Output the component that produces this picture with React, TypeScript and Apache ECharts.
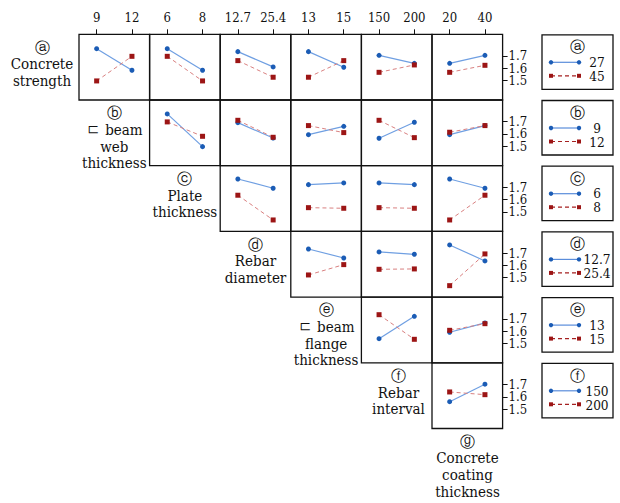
import React, { useEffect, useRef } from "react";
import * as echarts from "echarts";

// Factor names (row/column labels)
const factorLabels = [
  "ⓐ\nConcrete\nstrength",
  "ⓑ\nㄷ beam\nweb\nthickness",
  "ⓒ\nPlate\nthickness",
  "ⓓ\nRebar\ndiameter",
  "ⓔ\nㄷ beam\nflange\nthickness",
  "ⓕ\nRebar\ninterval",
  "ⓖ\nConcrete\ncoating\nthickness",
];
const circled = ["ⓐ", "ⓑ", "ⓒ", "ⓓ", "ⓔ", "ⓕ"];
const factorLevels = [
  ["27", "45"],
  ["9", "12"],
  ["6", "8"],
  ["12.7", "25.4"],
  ["13", "15"],
  ["150", "200"],
  ["20", "40"],
];
const yTicks = [1.5, 1.6, 1.7];

// Interaction means: row factor at its first level (blue) / second level (red),
// one pair per column factor (columns after the row factor)
const aLow = [[1.759, 1.584], [1.759, 1.584], [1.735, 1.611], [1.735, 1.608], [1.705, 1.64], [1.64, 1.705]];
const aHigh = [[1.497, 1.697], [1.697, 1.497], [1.662, 1.527], [1.527, 1.662], [1.567, 1.627], [1.567, 1.624]];
const bLow = [[1.763, 1.497], [1.692, 1.567], [1.594, 1.662], [1.565, 1.695], [1.594, 1.668]];
const bHigh = [[1.698, 1.581], [1.711, 1.573], [1.668, 1.611], [1.711, 1.57], [1.614, 1.668]];
const cLow = [[1.768, 1.693], [1.722, 1.736], [1.736, 1.722], [1.768, 1.693]];
const cHigh = [[1.636, 1.435], [1.535, 1.53], [1.535, 1.53], [1.435, 1.636]];
const dLow = [[1.733, 1.66], [1.709, 1.69], [1.766, 1.636]];
const dHigh = [[1.522, 1.606], [1.568, 1.571], [1.435, 1.693]];
const eLow = [[1.538, 1.72], [1.59, 1.666]];
const eHigh = [[1.733, 1.533], [1.606, 1.66]];
const fLow = [[1.56, 1.702]];
const fHigh = [[1.639, 1.617]];

const lowRows = [aLow, bLow, cLow, dLow, eLow, fLow];
const highRows = [aHigh, bHigh, cHigh, dHigh, eHigh, fHigh];

const FONT = "DejaVu Serif Condensed";

export default function App() {
  const ref = useRef<HTMLDivElement>(null);
  useEffect(() => {
    document.body.style.margin = "0";
    if (!ref.current) return;
    const chart = echarts.init(ref.current, undefined, { renderer: "svg" });

    const left0 = 79;
    const colW = 70.6;
    const top0 = 34.3;
    const rowH = 65.7;
    const yMin = 1.342;
    const yMax = 1.876;

    const grids: any[] = [];
    const xAxes: any[] = [];
    const yAxes: any[] = [];
    const series: any[] = [];
    let k = 0;
    for (let r = 0; r < 6; r++) {
      for (let c = r; c < 6; c++) {
        grids.push({
          left: left0 + colW * c,
          top: top0 + rowH * r,
          width: colW,
          height: rowH,
          show: true,
          borderColor: "#111",
          borderWidth: 1.3,
          backgroundColor: "transparent",
        });
        xAxes.push({
          gridIndex: k,
          type: "category",
          data: factorLevels[c + 1],
          boundaryGap: true,
          position: "top",
          show: r === 0,
          axisLine: { show: false },
          axisTick: { show: true, alignWithLabel: true, interval: 0, length: 5, lineStyle: { color: "#111", width: 1 } },
          axisLabel: { show: true, interval: 0, margin: 10, fontSize: 13, color: "#111", fontFamily: FONT },
          splitLine: { show: false },
        });
        const yIndex = yAxes.length;
        if (c === 5) {
          // one axis per tick value so every label is kept
          yTicks.forEach((tv) => {
            yAxes.push({
              gridIndex: k,
              type: "value",
              min: yMin,
              max: yMax,
              position: "right",
              axisLine: { show: false },
              splitLine: { show: false },
              axisTick: { show: true, length: 5, customValues: [tv], lineStyle: { color: "#111", width: 1 } },
              axisLabel: {
                show: true,
                customValues: [tv],
                showMinLabel: true,
                showMaxLabel: true,
                margin: 6,
                fontSize: 13,
                lineHeight: 12,
                color: "#111",
                fontFamily: FONT,
                formatter: (v: number) => v.toFixed(1),
              },
            });
          });
        } else {
          yAxes.push({ gridIndex: k, type: "value", min: yMin, max: yMax, show: false });
        }
        series.push({
          type: "line",
          xAxisIndex: k,
          yAxisIndex: yIndex,
          data: lowRows[r][c - r],
          symbol: "circle",
          symbolSize: 5,
          lineStyle: { color: "#6f9fe2", width: 1.2 },
          itemStyle: { color: "#1b5cb5" },
          z: 3,
        });
        series.push({
          type: "line",
          xAxisIndex: k,
          yAxisIndex: yIndex,
          data: highRows[r][c - r],
          symbol: "rect",
          symbolSize: 5,
          lineStyle: { color: "#d98080", width: 1, type: [4, 3] },
          itemStyle: { color: "#9c1515" },
          z: 4,
        });
        k++;
      }
    }

    const graphics: any[] = [];
    // factor labels
    const labelX = [42, 114.3, 184.9, 255.5, 326.1, 398.5, 467.5];
    for (let i = 0; i < 7; i++) {
      graphics.push({
        type: "text",
        x: labelX[i],
        y: top0 + rowH * i + 5,
        style: {
          text: factorLabels[i],
          fontSize: 15,
          lineHeight: 16.6,
          fontFamily: FONT,
          fill: "#111",
          align: "center",
          verticalAlign: "top",
        },
      });
    }
    // legend boxes
    for (let i = 0; i < 6; i++) {
      const t = top0 + rowH * i;
      graphics.push({
        type: "rect",
        shape: { x: 542, y: t + 0.5, width: 71, height: 54.5 },
        style: { fill: "#fff", stroke: "#111", lineWidth: 1.3 },
      });
      graphics.push({
        type: "text",
        x: 577.5,
        y: t + 13,
        style: { text: circled[i], fontSize: 15, fontFamily: FONT, fill: "#111", align: "center", verticalAlign: "middle" },
      });
      graphics.push({
        type: "line",
        shape: { x1: 551, y1: t + 28, x2: 579, y2: t + 28 },
        style: { stroke: "#5a8ddb", lineWidth: 1.2 },
      });
      graphics.push({ type: "circle", shape: { cx: 551, cy: t + 28, r: 2.2 }, style: { fill: "#1b5cb5" } });
      graphics.push({ type: "circle", shape: { cx: 579, cy: t + 28, r: 2.2 }, style: { fill: "#1b5cb5" } });
      graphics.push({
        type: "line",
        shape: { x1: 551, y1: t + 41.5, x2: 579, y2: t + 41.5 },
        style: { stroke: "#a52020", lineWidth: 1.2, lineDash: [4, 3] },
      });
      graphics.push({ type: "rect", shape: { x: 549, y: t + 39.5, width: 4, height: 4 }, style: { fill: "#9c1515" } });
      graphics.push({ type: "rect", shape: { x: 577, y: t + 39.5, width: 4, height: 4 }, style: { fill: "#9c1515" } });
      graphics.push({
        type: "text",
        x: 597,
        y: t + 34.7,
        style: {
          text: factorLevels[i][0] + "\n" + factorLevels[i][1],
          fontSize: 13.5,
          lineHeight: 14,
          fontFamily: FONT,
          fill: "#111",
          align: "center",
          verticalAlign: "middle",
        },
      });
    }

    chart.setOption({
      animation: false,
      backgroundColor: "#fff",
      grid: grids,
      xAxis: xAxes,
      yAxis: yAxes,
      series,
      graphic: graphics,
    });
    return () => chart.dispose();
  }, []);
  return <div ref={ref} style={{ width: 620, height: 503 }} />;
}
